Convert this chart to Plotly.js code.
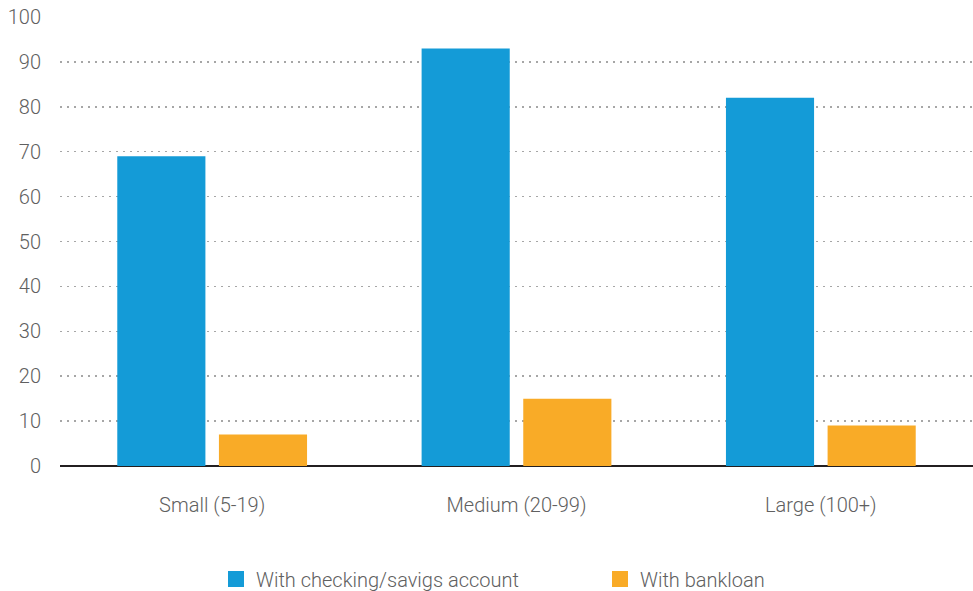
<!DOCTYPE html>
<html><head><meta charset="utf-8">
<script src="https://cdn.plot.ly/plotly-3.0.1.min.js"></script>
<style>html,body{margin:0;padding:0;background:#fff}</style>
</head><body>
<div id="chart" style="width:973px;height:591px"></div>
<script>
const categories = ["Small (5-19)", "Medium (20-99)", "Large (100+)"];
const checkingName = "With checking/savigs account";
const checkingValues = [69, 93, 82];
const loanName = "With bankloan";
const loanValues = [7, 15, 9];
const yTicks = [0, 10, 20, 30, 40, 50, 60, 70, 80, 90, 100];

const FONT = 'Roboto, "Liberation Sans", Arial, sans-serif';
const TEXTC = '#606060';
const BLUE = '#149bd7', ORANGE = '#f9ab27';

const traces = [
  {type: 'bar', name: checkingName, x: categories, y: checkingValues, showlegend: false,
   marker: {color: BLUE, line: {width: 0}}},
  {type: 'bar', name: loanName, x: categories, y: loanValues, showlegend: false,
   marker: {color: ORANGE, line: {width: 0}}},
  // legend keys
  {type: 'scatter', mode: 'markers', name: checkingName, x: [null], y: [null], legend: 'legend',
   marker: {symbol: 'square', size: 18, color: BLUE}},
  {type: 'scatter', mode: 'markers', name: loanName, x: [null], y: [null], legend: 'legend2',
   marker: {symbol: 'square', size: 18, color: ORANGE}}
];

const txtFont = {family: FONT, size: 20, color: TEXTC, weight: 300};
const layout = {
  width: 973, height: 591,
  margin: {l: 60, r: 0, t: 17, b: 125, autoexpand: false},
  paper_bgcolor: '#fff', plot_bgcolor: '#fff',
  font: txtFont,
  barmode: 'group',
  bargap: 0.332,
  bargroupgap: 0.133,
  showlegend: true,
  legend: {orientation: 'h', xref: 'container', yref: 'container', x: 216/973, xanchor: 'left',
           y: 12/591, yanchor: 'middle', font: txtFont, bgcolor: 'rgba(0,0,0,0)',
           itemsizing: 'trace', itemwidth: 30},
  legend2: {orientation: 'h', xref: 'container', yref: 'container', x: 600/973, xanchor: 'left',
           y: 12/591, yanchor: 'middle', font: txtFont, bgcolor: 'rgba(0,0,0,0)',
           itemsizing: 'trace', itemwidth: 30},
  xaxis: {type: 'category', showgrid: false, showline: false, zeroline: false,
          ticks: '', ticklabelstandoff: 25, tickfont: txtFont},
  yaxis: {range: [0, 100], tickvals: yTicks, ticktext: yTicks.map(String),
          showgrid: true, gridcolor: '#a6a6a6', gridwidth: 1.5, griddash: '1.5px,5.5px',
          zeroline: true, zerolinecolor: '#231f20', zerolinewidth: 2.5,
          showline: false, ticks: '', ticklabelstandoff: 18,
          tickfont: txtFont, fixedrange: true}
};

Plotly.newPlot('chart', traces, layout, {displayModeBar: false, staticPlot: true});
</script>
</body></html>
